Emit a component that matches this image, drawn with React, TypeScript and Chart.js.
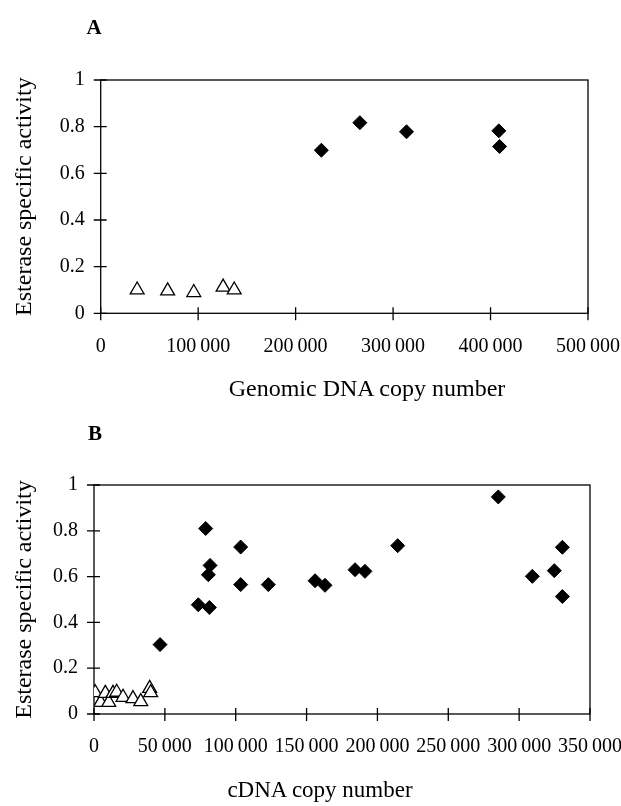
import React, { useEffect, useRef } from 'react';
import { Chart, registerables } from 'chart.js';

Chart.register(...registerables);

// ---------- Panel A: genomic DNA ----------
const genomicTriangleX = [37400, 68700, 95500, 125600, 137000];
const genomicTriangleY = [0.1, 0.096, 0.089, 0.112, 0.1];
const genomicDiamondX = [226400, 265900, 313800, 408500, 409300];
const genomicDiamondY = [0.699, 0.817, 0.778, 0.782, 0.715];

// ---------- Panel B: cDNA ----------
const cdnaTriangleX = [900, 4700, 8000, 10400, 13400, 16000, 20500, 27500, 33000, 39300, 40000];
const cdnaTriangleY = [0.093, 0.051, 0.09, 0.051, 0.09, 0.095, 0.073, 0.067, 0.054, 0.112, 0.093];
const cdnaDiamondX = [46600, 73600, 78800, 80700, 81400, 81900, 103500, 103500, 123000, 156000, 163000, 184200, 191200, 214300, 285300, 309300, 324800, 330500, 330500];
const cdnaDiamondY = [0.303, 0.477, 0.81, 0.608, 0.465, 0.649, 0.729, 0.565, 0.565, 0.582, 0.562, 0.63, 0.623, 0.735, 0.948, 0.601, 0.626, 0.728, 0.513];

// ---------- Axes ----------
const yAxisMin = 0;
const yAxisMax = 1;
const yAxisStep = 0.2;
const genomicXMax = 500000;
const genomicXStep = 100000;
const cdnaXMax = 350000;
const cdnaXStep = 50000;

const yTitle = 'Esterase specific activity';
const genomicXTitle = 'Genomic DNA copy number';
const cdnaXTitle = 'cDNA copy number';

const SERIF = '"Liberation Serif", "Times New Roman", Times, serif';

function formatThousands(v: number): string {
  if (v === 0) return '0';
  return String(Math.round(v)).replace(/\B(?=(\d{3})+(?!\d))/g, '\u2009');
}

function formatActivity(v: number): string {
  return String(Math.round(v * 10) / 10);
}

function toPoints(xs: number[], ys: number[]) {
  return xs.map((x, i) => ({ x, y: ys[i] }));
}

const frameAndTicks = {
  id: 'frameAndTicks',
  beforeDatasetsDraw(chart: any) {
    const { ctx, chartArea } = chart;
    const { left, right, top, bottom } = chartArea;
    ctx.save();
    ctx.strokeStyle = '#000';
    ctx.lineWidth = 1.3;
    ctx.strokeRect(left, top, right - left, bottom - top);
    ctx.beginPath();
    const xs = chart.scales.x;
    xs.ticks.forEach((t: any) => {
      const px = xs.getPixelForValue(t.value);
      ctx.moveTo(px, bottom - 6);
      ctx.lineTo(px, bottom + 7);
    });
    const ys = chart.scales.y;
    ys.ticks.forEach((t: any) => {
      const py = ys.getPixelForValue(t.value);
      ctx.moveTo(left - 7, py);
      ctx.lineTo(left + 6, py);
    });
    ctx.stroke();
    ctx.restore();
  },
};

interface PanelProps {
  triX: number[];
  triY: number[];
  diaX: number[];
  diaY: number[];
  xMax: number;
  xStep: number;
  height: number;
  plotLeft: number;
  plotTop: number;
  plotRight: number;
  plotBottom: number;
}

function Panel(p: PanelProps) {
  const ref = useRef<HTMLCanvasElement | null>(null);
  useEffect(() => {
    if (!ref.current) return;
    const chart = new Chart(ref.current, {
      type: 'scatter',
      data: {
        datasets: [
          {
            label: 'diamond',
            data: toPoints(p.diaX, p.diaY),
            pointStyle: 'rectRot',
            pointRadius: 7,
            pointHoverRadius: 7,
            backgroundColor: '#000',
            borderColor: '#000',
            borderWidth: 1,
          },
          {
            label: 'triangle',
            data: toPoints(p.triX, p.triY),
            pointStyle: 'triangle',
            pointRadius: 8,
            pointHoverRadius: 8,
            backgroundColor: '#fff',
            borderColor: '#000',
            borderWidth: 1.3,
          },
        ],
      },
      options: {
        animation: false,
        responsive: false,
        events: [],
        layout: {
          padding: { left: 0, top: p.plotTop, right: 621 - p.plotRight, bottom: 0 },
        },
        plugins: {
          legend: { display: false },
          tooltip: { enabled: false },
        },
        scales: {
          x: {
            type: 'linear',
            min: 0,
            max: p.xMax,
            grid: { display: false, drawTicks: false },
            border: { display: false },
            ticks: {
              stepSize: p.xStep,
              padding: 21,
              color: '#000',
              maxRotation: 0,
              autoSkip: false,
              font: { family: SERIF, size: 20 },
              callback: (v: any) => formatThousands(Number(v)),
            },
            title: { display: false },
            afterFit: (s: any) => {
              s.height = p.height - p.plotBottom;
              s.paddingLeft = 0;
              s.paddingRight = 0;
            },
          },
          y: {
            type: 'linear',
            min: yAxisMin,
            max: yAxisMax,
            grid: { display: false, drawTicks: false },
            border: { display: false },
            ticks: {
              stepSize: yAxisStep,
              padding: 16,
              color: '#000',
              font: { family: SERIF, size: 20 },
              callback: (v: any) => formatActivity(Number(v)),
            },
            title: {
              display: true,
              text: yTitle,
              color: '#000',
              font: { family: SERIF, size: 24 },
              padding: { top: 10.6, bottom: 0 },
            },
            afterFit: (s: any) => {
              s.width = p.plotLeft;
              s.paddingTop = 0;
              s.paddingBottom = 0;
            },
          },
        },
      },
      plugins: [frameAndTicks],
    } as any);
    return () => chart.destroy();
  }, []);
  return <canvas ref={ref} width={621} height={p.height} style={{ display: 'block', width: 621, height: p.height }} />;
}

const centered: React.CSSProperties = {
  position: 'absolute',
  transform: 'translate(-50%, -50%)',
  color: '#000',
  whiteSpace: 'nowrap',
  fontFamily: SERIF,
};

const panelLabel: React.CSSProperties = {
  ...centered,
  fontWeight: 'bold',
  fontSize: 21,
  lineHeight: '24px',
};

const axisTitle: React.CSSProperties = {
  ...centered,
  lineHeight: '28px',
};

export default function App() {
  return (
    <div style={{ position: 'absolute', left: 0, top: 0, width: 621, height: 806, background: '#fff', overflow: 'hidden' }}>
      <div style={{ position: 'absolute', left: 0, top: 0 }}>
        <Panel
          triX={genomicTriangleX}
          triY={genomicTriangleY}
          diaX={genomicDiamondX}
          diaY={genomicDiamondY}
          xMax={genomicXMax}
          xStep={genomicXStep}
          height={410}
          plotLeft={100.7}
          plotTop={80}
          plotRight={588}
          plotBottom={313.3}
        />
      </div>
      <div style={{ position: 'absolute', left: 0, top: 410 }}>
        <Panel
          triX={cdnaTriangleX}
          triY={cdnaTriangleY}
          diaX={cdnaDiamondX}
          diaY={cdnaDiamondY}
          xMax={cdnaXMax}
          xStep={cdnaXStep}
          height={396}
          plotLeft={94}
          plotTop={75}
          plotRight={590}
          plotBottom={304}
        />
      </div>
      <div style={{ ...panelLabel, left: 94, top: 27 }}>A</div>
      <div style={{ ...panelLabel, left: 95, top: 433 }}>B</div>
      <div style={{ ...axisTitle, fontSize: 24, left: 367, top: 388 }}>{genomicXTitle}</div>
      <div style={{ ...axisTitle, fontSize: 23, left: 320, top: 790 }}>{cdnaXTitle}</div>
    </div>
  );
}
